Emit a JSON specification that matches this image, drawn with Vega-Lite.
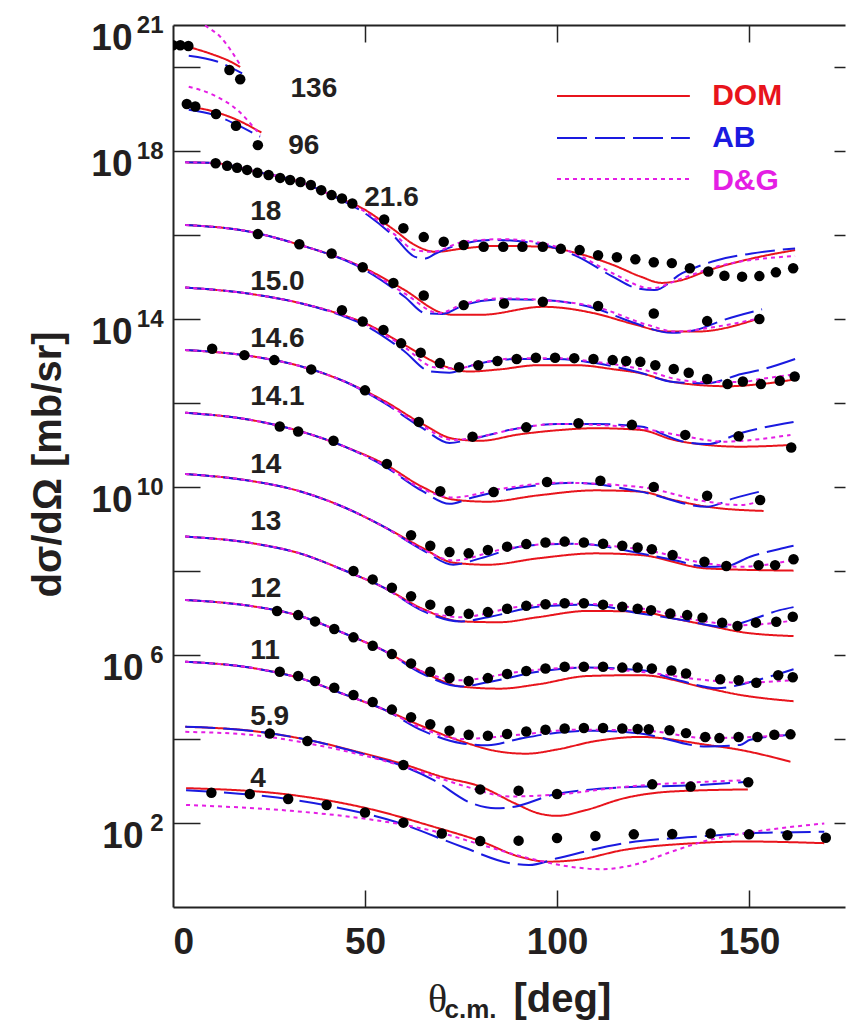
{
  "$schema": "https://vega.github.io/schema/vega-lite/v6.json",
  "width": 672,
  "height": 882,
  "autosize": {"type": "none"},
  "padding": {"left": 173, "top": 25, "right": 1, "bottom": 116},
  "background": "white",
  "config": {
    "view": {"stroke": null},
    "font": "Liberation Sans",
    "axis": {"grid": false, "domainColor": "#222222", "tickColor": "#222222", "labelColor": "#231f20", "titleColor": "#231f20", "labelFont": "Liberation Sans", "titleFont": "Liberation Sans"}
  },
  "datasets": {
    "curves": [
      {"E":"136","m":"DOM","t":4,"v":3.02e20},{"E":"136","m":"DOM","t":10.6,"v":1.95e20},{"E":"136","m":"DOM","t":14.5,"v":1.41e20},{"E":"136","m":"DOM","t":17.5,"v":1.0e20},
      {"E":"136","m":"AB","t":4.1,"v":1.86e20},{"E":"136","m":"AB","t":11.5,"v":1.35e20},{"E":"136","m":"AB","t":18,"v":7.08e19},
      {"E":"136","m":"D&G","t":5,"v":1.66e21},{"E":"136","m":"D&G","t":8.2,"v":1.0e21},{"E":"136","m":"D&G","t":12.3,"v":5.25e20},{"E":"136","m":"D&G","t":17.5,"v":1.12e20},
      {"E":"96","m":"DOM","t":3.2,"v":1.17e19},{"E":"96","m":"DOM","t":10.6,"v":8.71e18},{"E":"96","m":"DOM","t":16.7,"v":5.5e18},{"E":"96","m":"DOM","t":23,"v":2.75e18},
      {"E":"96","m":"AB","t":4.1,"v":9.55e18},{"E":"96","m":"AB","t":10.6,"v":7.24e18},{"E":"96","m":"AB","t":16.7,"v":4.17e18},{"E":"96","m":"AB","t":22.7,"v":2.19e18},
      {"E":"96","m":"D&G","t":4.1,"v":3.39e19},{"E":"96","m":"D&G","t":10.6,"v":2.14e19},{"E":"96","m":"D&G","t":16.7,"v":9.55e18},{"E":"96","m":"D&G","t":22.7,"v":2.4e18},

      {"E":"21.6","m":"DOM","t":3.2,"v":5.37e17},{"E":"21.6","m":"DOM","t":11,"v":5.13e17},{"E":"21.6","m":"DOM","t":22,"v":3.16e17},{"E":"21.6","m":"DOM","t":33.2,"v":1.82e17},{"E":"21.6","m":"DOM","t":41.3,"v":8.91e16},{"E":"21.6","m":"DOM","t":49.4,"v":4.27e16},{"E":"21.6","m":"DOM","t":57.6,"v":1.32e16},{"E":"21.6","m":"DOM","t":63,"v":5.75e15},{"E":"21.6","m":"DOM","t":68.4,"v":3.98e15},{"E":"21.6","m":"DOM","t":75.7,"v":4.79e15},{"E":"21.6","m":"DOM","t":83.8,"v":5.5e15},{"E":"21.6","m":"DOM","t":96.4,"v":5.25e15},{"E":"21.6","m":"DOM","t":105.5,"v":3.63e15},{"E":"21.6","m":"DOM","t":114.5,"v":1.95e15},{"E":"21.6","m":"DOM","t":121.8,"v":1.02e15},{"E":"21.6","m":"DOM","t":127.2,"v":7.24e14},{"E":"21.6","m":"DOM","t":131.7,"v":8.13e14},{"E":"21.6","m":"DOM","t":139.8,"v":1.48e15},{"E":"21.6","m":"DOM","t":150.7,"v":2.75e15},{"E":"21.6","m":"DOM","t":162,"v":4.37e15},
      {"E":"21.6","m":"AB","t":3.2,"v":5.37e17},{"E":"21.6","m":"AB","t":11,"v":5.13e17},{"E":"21.6","m":"AB","t":22,"v":3.16e17},{"E":"21.6","m":"AB","t":33.2,"v":1.82e17},{"E":"21.6","m":"AB","t":41.3,"v":8.91e16},{"E":"21.6","m":"AB","t":51.2,"v":2.75e16},{"E":"21.6","m":"AB","t":57.6,"v":9.12e15},{"E":"21.6","m":"AB","t":63,"v":3.02e15},{"E":"21.6","m":"AB","t":65.7,"v":2.75e15},{"E":"21.6","m":"AB","t":68.4,"v":3.63e15},{"E":"21.6","m":"AB","t":75.7,"v":6.31e15},{"E":"21.6","m":"AB","t":83.8,"v":7.59e15},{"E":"21.6","m":"AB","t":94.6,"v":6.31e15},{"E":"21.6","m":"AB","t":105.5,"v":3.02e15},{"E":"21.6","m":"AB","t":114.5,"v":1.02e15},{"E":"21.6","m":"AB","t":120.9,"v":5.37e14},{"E":"21.6","m":"AB","t":125.4,"v":4.9e14},{"E":"21.6","m":"AB","t":132.6,"v":1.23e15},{"E":"21.6","m":"AB","t":141.7,"v":2.51e15},{"E":"21.6","m":"AB","t":150.7,"v":3.63e15},{"E":"21.6","m":"AB","t":162,"v":4.79e15},
      {"E":"21.6","m":"D&G","t":3.2,"v":5.37e17},{"E":"21.6","m":"D&G","t":11,"v":5.13e17},{"E":"21.6","m":"D&G","t":22,"v":3.16e17},{"E":"21.6","m":"D&G","t":33.2,"v":1.82e17},{"E":"21.6","m":"D&G","t":41.3,"v":8.91e16},{"E":"21.6","m":"D&G","t":51,"v":3.16e16},{"E":"21.6","m":"D&G","t":57.6,"v":1.05e16},{"E":"21.6","m":"D&G","t":63,"v":4.37e15},{"E":"21.6","m":"D&G","t":67.5,"v":3.98e15},{"E":"21.6","m":"D&G","t":75.7,"v":6.92e15},{"E":"21.6","m":"D&G","t":85.6,"v":7.94e15},{"E":"21.6","m":"D&G","t":96.4,"v":6.31e15},{"E":"21.6","m":"D&G","t":105.5,"v":3.31e15},{"E":"21.6","m":"D&G","t":114.5,"v":1.23e15},{"E":"21.6","m":"D&G","t":124.5,"v":5.37e14},{"E":"21.6","m":"D&G","t":132.6,"v":9.33e14},{"E":"21.6","m":"D&G","t":141.7,"v":1.78e15},{"E":"21.6","m":"D&G","t":162,"v":3.16e15},

      {"E":"18","m":"DOM","t":3.2,"v":1.74e16},{"E":"18","m":"DOM","t":20,"v":1.2e16},{"E":"18","m":"DOM","t":33.2,"v":5.75e15},{"E":"18","m":"DOM","t":49.4,"v":1.7e15},{"E":"18","m":"DOM","t":60.3,"v":4.9e14},{"E":"18","m":"DOM","t":70.2,"v":1.38e14},{"E":"18","m":"DOM","t":72.9,"v":1.26e14},{"E":"18","m":"DOM","t":80.2,"v":1.26e14},{"E":"18","m":"DOM","t":96.4,"v":1.95e14},{"E":"18","m":"DOM","t":110,"v":1.35e14},{"E":"18","m":"DOM","t":119.1,"v":7.94e13},{"E":"18","m":"DOM","t":128.9,"v":5.01e13},{"E":"18","m":"DOM","t":136.2,"v":5.01e13},{"E":"18","m":"DOM","t":152.9,"v":1.05e14},
      {"E":"18","m":"AB","t":3.2,"v":1.74e16},{"E":"18","m":"AB","t":20,"v":1.2e16},{"E":"18","m":"AB","t":33.2,"v":5.75e15},{"E":"18","m":"AB","t":49.4,"v":1.58e15},{"E":"18","m":"AB","t":60.3,"v":3.39e14},{"E":"18","m":"AB","t":65.7,"v":1.38e14},{"E":"18","m":"AB","t":70.2,"v":1.32e14},{"E":"18","m":"AB","t":75.7,"v":2.14e14},{"E":"18","m":"AB","t":85.6,"v":2.95e14},{"E":"18","m":"AB","t":96.4,"v":2.82e14},{"E":"18","m":"AB","t":110,"v":1.78e14},{"E":"18","m":"AB","t":119.1,"v":8.71e13},{"E":"18","m":"AB","t":129.9,"v":4.68e13},{"E":"18","m":"AB","t":136.2,"v":5.5e13},{"E":"18","m":"AB","t":143.5,"v":9.55e13},{"E":"18","m":"AB","t":153.4,"v":1.7e14},
      {"E":"18","m":"D&G","t":3.2,"v":1.74e16},{"E":"18","m":"D&G","t":20,"v":1.2e16},{"E":"18","m":"D&G","t":33.2,"v":5.75e15},{"E":"18","m":"D&G","t":49.4,"v":1.66e15},{"E":"18","m":"D&G","t":60.3,"v":4.07e14},{"E":"18","m":"D&G","t":69.3,"v":1.38e14},{"E":"18","m":"D&G","t":75.7,"v":2.29e14},{"E":"18","m":"D&G","t":85.6,"v":3.09e14},{"E":"18","m":"D&G","t":96.4,"v":2.82e14},{"E":"18","m":"D&G","t":110,"v":1.95e14},{"E":"18","m":"D&G","t":123.6,"v":7.24e13},{"E":"18","m":"D&G","t":130.8,"v":5.01e13},{"E":"18","m":"D&G","t":141.7,"v":6.61e13},{"E":"18","m":"D&G","t":152.9,"v":1.05e14},

      {"E":"15.0","m":"DOM","t":3.2,"v":5.62e14},{"E":"15.0","m":"DOM","t":20,"v":3.98e14},{"E":"15.0","m":"DOM","t":33,"v":2.4e14},{"E":"15.0","m":"DOM","t":44,"v":1.26e14},{"E":"15.0","m":"DOM","t":50,"v":7.94e13},{"E":"15.0","m":"DOM","t":60,"v":2.51e13},{"E":"15.0","m":"DOM","t":70,"v":7.94e12},{"E":"15.0","m":"DOM","t":77,"v":5.62e12},{"E":"15.0","m":"DOM","t":85,"v":6.31e12},{"E":"15.0","m":"DOM","t":95,"v":7.94e12},{"E":"15.0","m":"DOM","t":105,"v":7.94e12},{"E":"15.0","m":"DOM","t":115,"v":6.31e12},{"E":"15.0","m":"DOM","t":121.7,"v":5.13e12},{"E":"15.0","m":"DOM","t":130.3,"v":3.16e12},{"E":"15.0","m":"DOM","t":144.4,"v":2.51e12},{"E":"15.0","m":"DOM","t":153,"v":2.82e12},{"E":"15.0","m":"DOM","t":162.6,"v":3.72e12},
      {"E":"15.0","m":"AB","t":3.2,"v":5.62e14},{"E":"15.0","m":"AB","t":20,"v":3.98e14},{"E":"15.0","m":"AB","t":33,"v":2.4e14},{"E":"15.0","m":"AB","t":44,"v":1.2e14},{"E":"15.0","m":"AB","t":50,"v":7.08e13},{"E":"15.0","m":"AB","t":60,"v":1.78e13},{"E":"15.0","m":"AB","t":67,"v":5.62e12},{"E":"15.0","m":"AB","t":72,"v":5.25e12},{"E":"15.0","m":"AB","t":78,"v":7.94e12},{"E":"15.0","m":"AB","t":90,"v":1.12e13},{"E":"15.0","m":"AB","t":100,"v":1.12e13},{"E":"15.0","m":"AB","t":110,"v":8.91e12},{"E":"15.0","m":"AB","t":121.7,"v":5.25e12},{"E":"15.0","m":"AB","t":130.3,"v":3.16e12},{"E":"15.0","m":"AB","t":139,"v":2.95e12},{"E":"15.0","m":"AB","t":148,"v":4.9e12},{"E":"15.0","m":"AB","t":153,"v":6.17e12},{"E":"15.0","m":"AB","t":162.6,"v":1.17e13},
      {"E":"15.0","m":"D&G","t":3.2,"v":5.62e14},{"E":"15.0","m":"D&G","t":20,"v":3.98e14},{"E":"15.0","m":"D&G","t":33,"v":2.4e14},{"E":"15.0","m":"D&G","t":44,"v":1.26e14},{"E":"15.0","m":"D&G","t":50,"v":7.59e13},{"E":"15.0","m":"D&G","t":60,"v":2.24e13},{"E":"15.0","m":"D&G","t":68,"v":7.08e12},{"E":"15.0","m":"D&G","t":74,"v":6.61e12},{"E":"15.0","m":"D&G","t":80,"v":8.91e12},{"E":"15.0","m":"D&G","t":90,"v":1.17e13},{"E":"15.0","m":"D&G","t":100,"v":1.17e13},{"E":"15.0","m":"D&G","t":110,"v":9.55e12},{"E":"15.0","m":"D&G","t":121.7,"v":6.46e12},{"E":"15.0","m":"D&G","t":132,"v":3.55e12},{"E":"15.0","m":"D&G","t":139,"v":3.16e12},{"E":"15.0","m":"D&G","t":148,"v":3.16e12},{"E":"15.0","m":"D&G","t":153,"v":3.72e12},{"E":"15.0","m":"D&G","t":162.6,"v":4.9e12},

      {"E":"14.6","m":"DOM","t":3.2,"v":1.82e13},{"E":"14.6","m":"DOM","t":20,"v":1.32e13},{"E":"14.6","m":"DOM","t":33,"v":7.59e12},{"E":"14.6","m":"DOM","t":45,"v":3.16e12},{"E":"14.6","m":"DOM","t":55,"v":1.12e12},{"E":"14.6","m":"DOM","t":65,"v":3.16e11},{"E":"14.6","m":"DOM","t":73,"v":1.41e11},{"E":"14.6","m":"DOM","t":80,"v":1.26e11},{"E":"14.6","m":"DOM","t":90,"v":1.78e11},{"E":"14.6","m":"DOM","t":100,"v":2.24e11},{"E":"14.6","m":"DOM","t":110,"v":2.51e11},{"E":"14.6","m":"DOM","t":121.7,"v":2.29e11},{"E":"14.6","m":"DOM","t":130.4,"v":1.32e11},{"E":"14.6","m":"DOM","t":139.1,"v":1.0e11},{"E":"14.6","m":"DOM","t":147.7,"v":9.12e10},{"E":"14.6","m":"DOM","t":160.8,"v":1.0e11},
      {"E":"14.6","m":"AB","t":3.2,"v":1.82e13},{"E":"14.6","m":"AB","t":20,"v":1.32e13},{"E":"14.6","m":"AB","t":33,"v":7.59e12},{"E":"14.6","m":"AB","t":45,"v":3.16e12},{"E":"14.6","m":"AB","t":55,"v":1.0e12},{"E":"14.6","m":"AB","t":65,"v":2.51e11},{"E":"14.6","m":"AB","t":72,"v":1.12e11},{"E":"14.6","m":"AB","t":78,"v":1.41e11},{"E":"14.6","m":"AB","t":90,"v":2.51e11},{"E":"14.6","m":"AB","t":100,"v":3.16e11},{"E":"14.6","m":"AB","t":110,"v":3.16e11},{"E":"14.6","m":"AB","t":121.7,"v":2.75e11},{"E":"14.6","m":"AB","t":133,"v":1.2e11},{"E":"14.6","m":"AB","t":139.1,"v":1.05e11},{"E":"14.6","m":"AB","t":147.7,"v":1.91e11},{"E":"14.6","m":"AB","t":161.6,"v":3.55e11},
      {"E":"14.6","m":"D&G","t":3.2,"v":1.82e13},{"E":"14.6","m":"D&G","t":20,"v":1.32e13},{"E":"14.6","m":"D&G","t":33,"v":7.59e12},{"E":"14.6","m":"D&G","t":45,"v":3.16e12},{"E":"14.6","m":"D&G","t":55,"v":1.05e12},{"E":"14.6","m":"D&G","t":65,"v":2.82e11},{"E":"14.6","m":"D&G","t":73,"v":1.32e11},{"E":"14.6","m":"D&G","t":80,"v":1.58e11},{"E":"14.6","m":"D&G","t":90,"v":2.51e11},{"E":"14.6","m":"D&G","t":100,"v":3.16e11},{"E":"14.6","m":"D&G","t":110,"v":3.02e11},{"E":"14.6","m":"D&G","t":121.7,"v":2.51e11},{"E":"14.6","m":"D&G","t":133,"v":1.62e11},{"E":"14.6","m":"D&G","t":143.4,"v":1.2e11},{"E":"14.6","m":"D&G","t":154.7,"v":1.45e11},{"E":"14.6","m":"D&G","t":160.8,"v":1.74e11},

      {"E":"14.1","m":"DOM","t":3.2,"v":5.89e11},{"E":"14.1","m":"DOM","t":20,"v":3.98e11},{"E":"14.1","m":"DOM","t":33,"v":2.14e11},{"E":"14.1","m":"DOM","t":45,"v":8.91e10},{"E":"14.1","m":"DOM","t":55,"v":3.55e10},{"E":"14.1","m":"DOM","t":65,"v":1.0e10},{"E":"14.1","m":"DOM","t":73,"v":5.01e9},{"E":"14.1","m":"DOM","t":82,"v":4.47e9},{"E":"14.1","m":"DOM","t":95,"v":6.31e9},{"E":"14.1","m":"DOM","t":110,"v":8.32e9},{"E":"14.1","m":"DOM","t":121.7,"v":7.76e9},{"E":"14.1","m":"DOM","t":130.4,"v":4.9e9},{"E":"14.1","m":"DOM","t":139.1,"v":3.39e9},{"E":"14.1","m":"DOM","t":153.8,"v":2.69e9},
      {"E":"14.1","m":"AB","t":3.2,"v":5.89e11},{"E":"14.1","m":"AB","t":20,"v":3.98e11},{"E":"14.1","m":"AB","t":33,"v":2.14e11},{"E":"14.1","m":"AB","t":45,"v":8.91e10},{"E":"14.1","m":"AB","t":55,"v":3.16e10},{"E":"14.1","m":"AB","t":65,"v":7.94e9},{"E":"14.1","m":"AB","t":72,"v":3.98e9},{"E":"14.1","m":"AB","t":78,"v":5.62e9},{"E":"14.1","m":"AB","t":90,"v":9.55e9},{"E":"14.1","m":"AB","t":105,"v":1.26e10},{"E":"14.1","m":"AB","t":121.7,"v":7.76e9},{"E":"14.1","m":"AB","t":139.1,"v":3.39e9},{"E":"14.1","m":"AB","t":146,"v":5.37e9},{"E":"14.1","m":"AB","t":153.8,"v":8.13e9},
      {"E":"14.1","m":"D&G","t":3.2,"v":5.89e11},{"E":"14.1","m":"D&G","t":20,"v":3.98e11},{"E":"14.1","m":"D&G","t":33,"v":2.14e11},{"E":"14.1","m":"D&G","t":45,"v":8.91e10},{"E":"14.1","m":"D&G","t":55,"v":3.31e10},{"E":"14.1","m":"D&G","t":65,"v":8.91e9},{"E":"14.1","m":"D&G","t":73,"v":5.62e9},{"E":"14.1","m":"D&G","t":85,"v":8.91e9},{"E":"14.1","m":"D&G","t":100,"v":1.26e10},{"E":"14.1","m":"D&G","t":121.7,"v":1.0e10},{"E":"14.1","m":"D&G","t":139.1,"v":4.47e9},{"E":"14.1","m":"D&G","t":147.7,"v":3.72e9},{"E":"14.1","m":"D&G","t":153.8,"v":4.9e9},

      {"E":"14","m":"DOM","t":3.2,"v":2.04e10},{"E":"14","m":"DOM","t":20,"v":1.41e10},{"E":"14","m":"DOM","t":33,"v":7.94e9},{"E":"14","m":"DOM","t":45,"v":3.16e9},{"E":"14","m":"DOM","t":55,"v":1.12e9},{"E":"14","m":"DOM","t":65,"v":3.55e8},{"E":"14","m":"DOM","t":73,"v":1.58e8},{"E":"14","m":"DOM","t":82,"v":1.41e8},{"E":"14","m":"DOM","t":95,"v":2.0e8},{"E":"14","m":"DOM","t":110,"v":2.63e8},{"E":"14","m":"DOM","t":121.7,"v":2.4e8},{"E":"14","m":"DOM","t":139.1,"v":1.15e8},{"E":"14","m":"DOM","t":161.6,"v":1.02e8},
      {"E":"14","m":"AB","t":3.2,"v":2.04e10},{"E":"14","m":"AB","t":20,"v":1.41e10},{"E":"14","m":"AB","t":33,"v":7.94e9},{"E":"14","m":"AB","t":45,"v":3.16e9},{"E":"14","m":"AB","t":55,"v":1.12e9},{"E":"14","m":"AB","t":65,"v":3.16e8},{"E":"14","m":"AB","t":73,"v":1.41e8},{"E":"14","m":"AB","t":80,"v":2.0e8},{"E":"14","m":"AB","t":92,"v":3.98e8},{"E":"14","m":"AB","t":105,"v":4.47e8},{"E":"14","m":"AB","t":121.7,"v":2.63e8},{"E":"14","m":"AB","t":130.4,"v":1.82e8},{"E":"14","m":"AB","t":139.1,"v":1.26e8},{"E":"14","m":"AB","t":144.3,"v":1.32e8},{"E":"14","m":"AB","t":150.3,"v":2.19e8},{"E":"14","m":"AB","t":157.7,"v":3.31e8},{"E":"14","m":"AB","t":161.6,"v":3.98e8},
      {"E":"14","m":"D&G","t":3.2,"v":2.04e10},{"E":"14","m":"D&G","t":20,"v":1.41e10},{"E":"14","m":"D&G","t":33,"v":7.94e9},{"E":"14","m":"D&G","t":45,"v":3.16e9},{"E":"14","m":"D&G","t":55,"v":1.12e9},{"E":"14","m":"D&G","t":65,"v":3.31e8},{"E":"14","m":"D&G","t":73,"v":1.78e8},{"E":"14","m":"D&G","t":85,"v":3.16e8},{"E":"14","m":"D&G","t":100,"v":4.47e8},{"E":"14","m":"D&G","t":121.7,"v":3.31e8},{"E":"14","m":"D&G","t":139.1,"v":1.51e8},{"E":"14","m":"D&G","t":147.7,"v":1.26e8},{"E":"14","m":"D&G","t":161.6,"v":1.82e8},

      {"E":"13","m":"DOM","t":3.2,"v":6.61e8},{"E":"13","m":"DOM","t":20,"v":4.68e8},{"E":"13","m":"DOM","t":33,"v":2.63e8},{"E":"13","m":"DOM","t":45,"v":1.0e8},{"E":"13","m":"DOM","t":55,"v":3.98e7},{"E":"13","m":"DOM","t":65,"v":1.26e7},{"E":"13","m":"DOM","t":75,"v":6.31e6},{"E":"13","m":"DOM","t":85,"v":6.03e6},{"E":"13","m":"DOM","t":95,"v":7.94e6},{"E":"13","m":"DOM","t":108,"v":1.12e7},{"E":"13","m":"DOM","t":121.7,"v":1.07e7},{"E":"13","m":"DOM","t":130.4,"v":7.41e6},{"E":"13","m":"DOM","t":139.1,"v":5.13e6},{"E":"13","m":"DOM","t":147.7,"v":3.55e6},{"E":"13","m":"DOM","t":161.6,"v":2.82e6},
      {"E":"13","m":"AB","t":3.2,"v":6.61e8},{"E":"13","m":"AB","t":20,"v":4.68e8},{"E":"13","m":"AB","t":33,"v":2.63e8},{"E":"13","m":"AB","t":45,"v":1.0e8},{"E":"13","m":"AB","t":55,"v":3.98e7},{"E":"13","m":"AB","t":65,"v":1.12e7},{"E":"13","m":"AB","t":75,"v":6.31e6},{"E":"13","m":"AB","t":82,"v":7.94e6},{"E":"13","m":"AB","t":95,"v":1.41e7},{"E":"13","m":"AB","t":108,"v":1.58e7},{"E":"13","m":"AB","t":121.7,"v":9.77e6},{"E":"13","m":"AB","t":133,"v":6.76e6},{"E":"13","m":"AB","t":143.4,"v":4.68e6},{"E":"13","m":"AB","t":150.3,"v":6.76e6},{"E":"13","m":"AB","t":158,"v":1.17e7},{"E":"13","m":"AB","t":161.6,"v":1.38e7},
      {"E":"13","m":"D&G","t":3.2,"v":6.61e8},{"E":"13","m":"D&G","t":20,"v":4.68e8},{"E":"13","m":"D&G","t":33,"v":2.63e8},{"E":"13","m":"D&G","t":45,"v":1.0e8},{"E":"13","m":"D&G","t":55,"v":3.98e7},{"E":"13","m":"D&G","t":65,"v":1.2e7},{"E":"13","m":"D&G","t":75,"v":7.94e6},{"E":"13","m":"D&G","t":90,"v":1.41e7},{"E":"13","m":"D&G","t":105,"v":1.66e7},{"E":"13","m":"D&G","t":121.7,"v":1.29e7},{"E":"13","m":"D&G","t":139.1,"v":6.17e6},{"E":"13","m":"D&G","t":147.7,"v":5.13e6},{"E":"13","m":"D&G","t":161.6,"v":6.61e6},

      {"E":"12","m":"DOM","t":3.2,"v":2.04e7},{"E":"12","m":"DOM","t":20,"v":1.48e7},{"E":"12","m":"DOM","t":33,"v":8.51e6},{"E":"12","m":"DOM","t":45,"v":3.16e6},{"E":"12","m":"DOM","t":55,"v":1.26e6},{"E":"12","m":"DOM","t":65,"v":3.98e5},{"E":"12","m":"DOM","t":75,"v":1.78e5},{"E":"12","m":"DOM","t":85,"v":1.58e5},{"E":"12","m":"DOM","t":95,"v":2.0e5},{"E":"12","m":"DOM","t":108,"v":3.16e5},{"E":"12","m":"DOM","t":121.7,"v":3.31e5},{"E":"12","m":"DOM","t":139.1,"v":1.62e5},{"E":"12","m":"DOM","t":147.7,"v":1.12e5},{"E":"12","m":"DOM","t":161.6,"v":7.94e4},
      {"E":"12","m":"AB","t":3.2,"v":2.04e7},{"E":"12","m":"AB","t":20,"v":1.48e7},{"E":"12","m":"AB","t":33,"v":8.51e6},{"E":"12","m":"AB","t":45,"v":3.16e6},{"E":"12","m":"AB","t":55,"v":1.26e6},{"E":"12","m":"AB","t":65,"v":3.55e5},{"E":"12","m":"AB","t":75,"v":1.78e5},{"E":"12","m":"AB","t":82,"v":2.24e5},{"E":"12","m":"AB","t":95,"v":3.98e5},{"E":"12","m":"AB","t":108,"v":5.01e5},{"E":"12","m":"AB","t":121.7,"v":4.37e5},{"E":"12","m":"AB","t":131.6,"v":2.51e5},{"E":"12","m":"AB","t":141.7,"v":1.62e5},{"E":"12","m":"AB","t":147.7,"v":1.95e5},{"E":"12","m":"AB","t":152.1,"v":2.51e5},{"E":"12","m":"AB","t":158.1,"v":3.63e5},{"E":"12","m":"AB","t":161.6,"v":4.57e5},
      {"E":"12","m":"D&G","t":3.2,"v":2.04e7},{"E":"12","m":"D&G","t":20,"v":1.48e7},{"E":"12","m":"D&G","t":33,"v":8.51e6},{"E":"12","m":"D&G","t":45,"v":3.16e6},{"E":"12","m":"D&G","t":55,"v":1.26e6},{"E":"12","m":"D&G","t":65,"v":3.98e5},{"E":"12","m":"D&G","t":75,"v":2.51e5},{"E":"12","m":"D&G","t":90,"v":3.98e5},{"E":"12","m":"D&G","t":105,"v":5.01e5},{"E":"12","m":"D&G","t":121.7,"v":3.98e5},{"E":"12","m":"D&G","t":139.1,"v":2.51e5},{"E":"12","m":"D&G","t":147.7,"v":2.19e5},{"E":"12","m":"D&G","t":161.6,"v":2.51e5},

      {"E":"11","m":"DOM","t":3.2,"v":6.92e5},{"E":"11","m":"DOM","t":20,"v":5.01e5},{"E":"11","m":"DOM","t":33,"v":2.82e5},{"E":"11","m":"DOM","t":45,"v":1.12e5},{"E":"11","m":"DOM","t":55,"v":5.01e4},{"E":"11","m":"DOM","t":65,"v":2.0e4},{"E":"11","m":"DOM","t":75,"v":8.91e3},{"E":"11","m":"DOM","t":85,"v":5.01e3},{"E":"11","m":"DOM","t":92,"v":4.47e3},{"E":"11","m":"DOM","t":100,"v":5.62e3},{"E":"11","m":"DOM","t":110,"v":8.91e3},{"E":"11","m":"DOM","t":121.7,"v":1.12e4},{"E":"11","m":"DOM","t":139.1,"v":7.24e3},{"E":"11","m":"DOM","t":147.7,"v":5.5e3},{"E":"11","m":"DOM","t":160.8,"v":2.88e3},
      {"E":"11","m":"AB","t":3.2,"v":6.92e5},{"E":"11","m":"AB","t":20,"v":5.01e5},{"E":"11","m":"AB","t":33,"v":2.82e5},{"E":"11","m":"AB","t":45,"v":1.12e5},{"E":"11","m":"AB","t":55,"v":5.01e4},{"E":"11","m":"AB","t":65,"v":1.58e4},{"E":"11","m":"AB","t":75,"v":7.94e3},{"E":"11","m":"AB","t":82,"v":7.08e3},{"E":"11","m":"AB","t":90,"v":1.0e4},{"E":"11","m":"AB","t":100,"v":1.41e4},{"E":"11","m":"AB","t":110,"v":1.58e4},{"E":"11","m":"AB","t":121.7,"v":1.35e4},{"E":"11","m":"AB","t":139.1,"v":6.61e3},{"E":"11","m":"AB","t":147.7,"v":7.24e3},{"E":"11","m":"AB","t":150.3,"v":9.55e3},{"E":"11","m":"AB","t":161.6,"v":1.26e4},
      {"E":"11","m":"D&G","t":3.2,"v":6.92e5},{"E":"11","m":"D&G","t":20,"v":5.01e5},{"E":"11","m":"D&G","t":33,"v":2.82e5},{"E":"11","m":"D&G","t":45,"v":1.12e5},{"E":"11","m":"D&G","t":55,"v":5.01e4},{"E":"11","m":"D&G","t":65,"v":1.78e4},{"E":"11","m":"D&G","t":75,"v":1.0e4},{"E":"11","m":"D&G","t":90,"v":1.26e4},{"E":"11","m":"D&G","t":105,"v":1.66e4},{"E":"11","m":"D&G","t":121.7,"v":1.62e4},{"E":"11","m":"D&G","t":139.1,"v":1.05e4},{"E":"11","m":"D&G","t":161.6,"v":1.26e4},

      {"E":"5.9","m":"DOM","t":3.2,"v":1.95e4},{"E":"5.9","m":"DOM","t":20,"v":1.58e4},{"E":"5.9","m":"DOM","t":35,"v":9.55e3},{"E":"5.9","m":"DOM","t":50,"v":4.47e3},{"E":"5.9","m":"DOM","t":60,"v":2.51e3},{"E":"5.9","m":"DOM","t":70,"v":1.26e3},{"E":"5.9","m":"DOM","t":80.3,"v":724},{"E":"5.9","m":"DOM","t":89,"v":295},{"E":"5.9","m":"DOM","t":95.2,"v":170},{"E":"5.9","m":"DOM","t":100.1,"v":148},{"E":"5.9","m":"DOM","t":107.6,"v":204},{"E":"5.9","m":"DOM","t":117.5,"v":389},{"E":"5.9","m":"DOM","t":129.9,"v":562},{"E":"5.9","m":"DOM","t":149.7,"v":631},
      {"E":"5.9","m":"AB","t":3.2,"v":1.95e4},{"E":"5.9","m":"AB","t":20,"v":1.58e4},{"E":"5.9","m":"AB","t":35,"v":9.55e3},{"E":"5.9","m":"AB","t":50,"v":4.27e3},{"E":"5.9","m":"AB","t":60,"v":2.24e3},{"E":"5.9","m":"AB","t":67.9,"v":1.05e3},{"E":"5.9","m":"AB","t":77.8,"v":295},{"E":"5.9","m":"AB","t":84,"v":224},{"E":"5.9","m":"AB","t":89,"v":245},{"E":"5.9","m":"AB","t":98.9,"v":468},{"E":"5.9","m":"AB","t":117.5,"v":708},{"E":"5.9","m":"AB","t":136.1,"v":794},{"E":"5.9","m":"AB","t":149.7,"v":955},
      {"E":"5.9","m":"D&G","t":3.2,"v":1.48e4},{"E":"5.9","m":"D&G","t":20,"v":1.26e4},{"E":"5.9","m":"D&G","t":35,"v":7.94e3},{"E":"5.9","m":"D&G","t":50,"v":3.98e3},{"E":"5.9","m":"D&G","t":60,"v":2.24e3},{"E":"5.9","m":"D&G","t":70,"v":1.12e3},{"E":"5.9","m":"D&G","t":76.6,"v":724},{"E":"5.9","m":"D&G","t":87.7,"v":427},{"E":"5.9","m":"D&G","t":98.9,"v":468},{"E":"5.9","m":"D&G","t":117.5,"v":724},{"E":"5.9","m":"D&G","t":149.7,"v":1.05e3},

      {"E":"4","m":"DOM","t":3.4,"v":676},{"E":"4","m":"DOM","t":30.7,"v":468},{"E":"4","m":"DOM","t":50.5,"v":224},{"E":"4","m":"DOM","t":67.9,"v":81.3},{"E":"4","m":"DOM","t":80.3,"v":36.3},{"E":"4","m":"DOM","t":90.2,"v":15.8},{"E":"4","m":"DOM","t":97.6,"v":12},{"E":"4","m":"DOM","t":105.1,"v":13.2},{"E":"4","m":"DOM","t":117.5,"v":22.9},{"E":"4","m":"DOM","t":136.1,"v":33.1},{"E":"4","m":"DOM","t":148.5,"v":36.3},{"E":"4","m":"DOM","t":169.6,"v":33.1},
      {"E":"4","m":"AB","t":3.4,"v":603},{"E":"4","m":"AB","t":20.8,"v":468},{"E":"4","m":"AB","t":39.4,"v":269},{"E":"4","m":"AB","t":57.9,"v":107},{"E":"4","m":"AB","t":75.4,"v":26.9},{"E":"4","m":"AB","t":87.8,"v":11},{"E":"4","m":"AB","t":92.7,"v":10},{"E":"4","m":"AB","t":100.1,"v":14.5},{"E":"4","m":"AB","t":117.5,"v":33.1},{"E":"4","m":"AB","t":136.1,"v":46.8},{"E":"4","m":"AB","t":148.5,"v":56.2},{"E":"4","m":"AB","t":169.6,"v":61.7},
      {"E":"4","m":"D&G","t":3.4,"v":269},{"E":"4","m":"D&G","t":30.7,"v":195},{"E":"4","m":"D&G","t":49.3,"v":129},{"E":"4","m":"D&G","t":60.5,"v":89.1},{"E":"4","m":"D&G","t":70.4,"v":56.2},{"E":"4","m":"D&G","t":80.3,"v":30.2},{"E":"4","m":"D&G","t":92.7,"v":14.5},{"E":"4","m":"D&G","t":105.1,"v":8.71},{"E":"4","m":"D&G","t":111.3,"v":7.94},{"E":"4","m":"D&G","t":119.9,"v":10},{"E":"4","m":"D&G","t":129.9,"v":20.9},{"E":"4","m":"D&G","t":139.8,"v":39.8},{"E":"4","m":"D&G","t":148.5,"v":56.2},{"E":"4","m":"D&G","t":169.6,"v":97.7}
    ],
    "dots": [
      {"E":"136","t":0,"v":3.31e20},{"E":"136","t":1.9,"v":3.31e20},{"E":"136","t":4,"v":3.16e20},{"E":"136","t":14.7,"v":8.51e19},{"E":"136","t":17.5,"v":5.13e19},
      {"E":"96","t":3.6,"v":1.32e19},{"E":"96","t":5.8,"v":1.15e19},{"E":"96","t":11.2,"v":7.59e18},{"E":"96","t":16.4,"v":3.98e18},{"E":"96","t":22.1,"v":1.38e18},
      {"E":"21.6","t":11.1,"v":5.13e17},{"E":"21.6","t":14.1,"v":4.47e17},{"E":"21.6","t":16.7,"v":3.98e17},{"E":"21.6","t":19.3,"v":3.55e17},{"E":"21.6","t":22,"v":3.02e17},{"E":"21.6","t":24.9,"v":2.69e17},{"E":"21.6","t":27.9,"v":2.29e17},{"E":"21.6","t":30.5,"v":2.04e17},{"E":"21.6","t":33.2,"v":1.82e17},{"E":"21.6","t":35.9,"v":1.55e17},{"E":"21.6","t":38.6,"v":1.17e17},{"E":"21.6","t":41.3,"v":8.91e16},{"E":"21.6","t":44,"v":7.41e16},{"E":"21.6","t":46.7,"v":5.62e16},{"E":"21.6","t":55,"v":2.34e16},{"E":"21.6","t":60,"v":1.45e16},{"E":"21.6","t":65.3,"v":8.91e15},{"E":"21.6","t":70.5,"v":6.92e15},{"E":"21.6","t":75.7,"v":5.75e15},{"E":"21.6","t":80.9,"v":5.25e15},{"E":"21.6","t":86,"v":5.25e15},{"E":"21.6","t":91,"v":5.25e15},{"E":"21.6","t":96.3,"v":5.25e15},{"E":"21.6","t":101,"v":4.68e15},{"E":"21.6","t":105.9,"v":4.37e15},{"E":"21.6","t":110.7,"v":3.31e15},{"E":"21.6","t":115.6,"v":2.95e15},{"E":"21.6","t":120.4,"v":2.63e15},{"E":"21.6","t":125.2,"v":2.24e15},{"E":"21.6","t":129.9,"v":2.14e15},{"E":"21.6","t":134.6,"v":1.62e15},{"E":"21.6","t":139.4,"v":1.35e15},{"E":"21.6","t":143.6,"v":1.07e15},{"E":"21.6","t":148.2,"v":1.02e15},{"E":"21.6","t":152.7,"v":1.05e15},{"E":"21.6","t":157,"v":1.29e15},{"E":"21.6","t":161.5,"v":1.62e15},
      {"E":"18","t":22.1,"v":1.05e16},{"E":"18","t":32.9,"v":6.03e15},{"E":"18","t":41.3,"v":3.63e15},{"E":"18","t":49.4,"v":1.7e15},{"E":"18","t":57.4,"v":7.24e14},{"E":"18","t":65.3,"v":3.63e14},{"E":"18","t":75.7,"v":2.14e14},{"E":"18","t":86.2,"v":2.34e14},{"E":"18","t":96.3,"v":2.57e14},{"E":"18","t":110.7,"v":2.04e14},{"E":"18","t":125.2,"v":1.35e14},{"E":"18","t":139.1,"v":8.91e13},{"E":"18","t":152.7,"v":1.0e14},
      {"E":"15.0","t":44,"v":1.62e14},{"E":"15.0","t":49.4,"v":8.71e13},{"E":"15.0","t":54.8,"v":5.5e13},{"E":"15.0","t":59.4,"v":2.63e13},{"E":"15.0","t":64.5,"v":1.58e13},{"E":"15.0","t":69.5,"v":8.91e12},{"E":"15.0","t":74.5,"v":7.08e12},{"E":"15.0","t":79.5,"v":7.94e12},{"E":"15.0","t":84.5,"v":1.0e13},{"E":"15.0","t":89.5,"v":1.12e13},{"E":"15.0","t":94.5,"v":1.2e13},{"E":"15.0","t":99.5,"v":1.2e13},{"E":"15.0","t":104.5,"v":1.17e13},{"E":"15.0","t":109.5,"v":1.12e13},{"E":"15.0","t":114.5,"v":1.05e13},{"E":"15.0","t":118,"v":1.0e13},{"E":"15.0","t":121.7,"v":9.55e12},{"E":"15.0","t":125.6,"v":7.94e12},{"E":"15.0","t":130.4,"v":6.46e12},{"E":"15.0","t":134.3,"v":5.25e12},{"E":"15.0","t":139.1,"v":3.72e12},{"E":"15.0","t":144.4,"v":2.82e12},{"E":"15.0","t":148.4,"v":3.24e12},{"E":"15.0","t":153.1,"v":2.82e12},{"E":"15.0","t":158,"v":3.39e12},{"E":"15.0","t":161.9,"v":4.27e12},
      {"E":"14.6","t":10.2,"v":1.95e13},{"E":"14.6","t":18.6,"v":1.38e13},{"E":"14.6","t":26.4,"v":1.05e13},{"E":"14.6","t":36,"v":6.31e12},{"E":"14.6","t":50,"v":2.0e12},{"E":"14.6","t":64,"v":3.55e11},{"E":"14.6","t":78,"v":1.58e11},{"E":"14.6","t":92,"v":2.63e11},{"E":"14.6","t":105.6,"v":3.31e11},{"E":"14.6","t":119.5,"v":3.02e11},{"E":"14.6","t":133.4,"v":1.74e11},{"E":"14.6","t":147.3,"v":1.62e11},{"E":"14.6","t":161,"v":8.71e10},
      {"E":"14.1","t":27.8,"v":2.75e11},{"E":"14.1","t":32.6,"v":2.09e11},{"E":"14.1","t":41.8,"v":1.26e11},{"E":"14.1","t":55.7,"v":3.55e10},{"E":"14.1","t":69.6,"v":7.94e9},{"E":"14.1","t":83.5,"v":7.59e9},{"E":"14.1","t":97.4,"v":1.32e10},{"E":"14.1","t":111.3,"v":1.41e10},{"E":"14.1","t":125.2,"v":1.0e10},{"E":"14.1","t":139.1,"v":6.17e9},{"E":"14.1","t":152.9,"v":4.9e9},
      {"E":"14","t":62,"v":7.08e8},{"E":"14","t":67,"v":3.98e8},{"E":"14","t":72,"v":2.82e8},{"E":"14","t":77,"v":2.63e8},{"E":"14","t":82,"v":3.16e8},{"E":"14","t":87,"v":3.8e8},{"E":"14","t":92,"v":4.37e8},{"E":"14","t":97,"v":4.79e8},{"E":"14","t":102,"v":5.01e8},{"E":"14","t":107,"v":4.79e8},{"E":"14","t":112,"v":4.47e8},{"E":"14","t":117,"v":3.98e8},{"E":"14","t":121,"v":3.63e8},
      {"E":"14","t":124.7,"v":3.31e8},{"E":"14","t":130.1,"v":2.4e8},{"E":"14","t":138.4,"v":1.66e8},{"E":"14","t":144.1,"v":1.32e8},{"E":"14","t":152.5,"v":1.38e8},{"E":"14","t":156.8,"v":1.38e8},{"E":"14","t":161.6,"v":1.91e8},
      {"E":"13","t":47,"v":1.0e8},{"E":"13","t":52,"v":6.31e7},{"E":"13","t":57,"v":3.98e7},{"E":"13","t":62,"v":2.51e7},{"E":"13","t":67,"v":1.58e7},{"E":"13","t":72,"v":1.12e7},{"E":"13","t":77,"v":9.55e6},{"E":"13","t":82,"v":1.05e7},{"E":"13","t":87,"v":1.26e7},{"E":"13","t":92,"v":1.48e7},{"E":"13","t":97,"v":1.62e7},{"E":"13","t":102,"v":1.7e7},{"E":"13","t":107,"v":1.7e7},{"E":"13","t":112,"v":1.58e7},{"E":"13","t":117,"v":1.41e7},{"E":"13","t":121,"v":1.26e7},
      {"E":"13","t":124.5,"v":1.17e7},{"E":"13","t":129.5,"v":9.77e6},{"E":"13","t":133.9,"v":8.91e6},{"E":"13","t":137.9,"v":7.76e6},{"E":"13","t":143,"v":5.89e6},{"E":"13","t":147,"v":4.9e6},{"E":"13","t":151.8,"v":5.89e6},{"E":"13","t":157.1,"v":6.17e6},{"E":"13","t":161.4,"v":8.13e6},
      {"E":"12","t":27.1,"v":1.12e7},{"E":"12","t":32.6,"v":8.91e6},{"E":"12","t":37,"v":6.31e6},{"E":"12","t":42,"v":4.17e6},{"E":"12","t":47,"v":2.63e6},{"E":"12","t":52,"v":1.66e6},{"E":"12","t":57,"v":1.05e6},{"E":"12","t":62,"v":6.31e5},{"E":"12","t":67,"v":3.98e5},{"E":"12","t":72,"v":2.82e5},{"E":"12","t":77,"v":2.4e5},{"E":"12","t":82,"v":2.82e5},{"E":"12","t":87,"v":3.55e5},{"E":"12","t":92,"v":4.17e5},{"E":"12","t":97,"v":4.79e5},{"E":"12","t":102,"v":5.25e5},{"E":"12","t":107,"v":5.25e5},{"E":"12","t":112,"v":5.25e5},{"E":"12","t":117,"v":5.01e5},{"E":"12","t":121,"v":5.01e5},
      {"E":"12","t":124.7,"v":4.79e5},{"E":"12","t":129.8,"v":4.27e5},{"E":"12","t":133.6,"v":3.63e5},{"E":"12","t":142.5,"v":2.63e5},{"E":"12","t":147.3,"v":2.51e5},{"E":"12","t":151.9,"v":2.19e5},{"E":"12","t":157.6,"v":3.31e5},{"E":"12","t":161.4,"v":2.95e5},
      {"E":"11","t":27.8,"v":3.98e5},{"E":"11","t":32.6,"v":3.16e5},{"E":"11","t":37,"v":2.4e5},{"E":"11","t":42,"v":1.66e5},{"E":"11","t":47,"v":1.12e5},{"E":"11","t":52,"v":7.59e4},{"E":"11","t":57,"v":5.01e4},{"E":"11","t":62,"v":3.31e4},{"E":"11","t":67,"v":2.24e4},{"E":"11","t":72,"v":1.58e4},{"E":"11","t":77,"v":1.26e4},{"E":"11","t":82,"v":1.2e4},{"E":"11","t":87,"v":1.32e4},{"E":"11","t":92,"v":1.51e4},{"E":"11","t":97,"v":1.66e4},{"E":"11","t":102,"v":1.78e4},{"E":"11","t":107,"v":1.82e4},{"E":"11","t":112,"v":1.82e4},{"E":"11","t":117,"v":1.78e4},{"E":"11","t":121,"v":1.74e4},
      {"E":"11","t":123.9,"v":1.7e4},{"E":"11","t":129.3,"v":1.62e4},{"E":"11","t":133.6,"v":1.38e4},{"E":"11","t":138.6,"v":1.12e4},{"E":"11","t":142.3,"v":1.05e4},{"E":"11","t":147.3,"v":1.12e4},{"E":"11","t":152.2,"v":1.12e4},{"E":"11","t":156.6,"v":1.26e4},{"E":"11","t":160.8,"v":1.29e4},
      {"E":"5.9","t":25.2,"v":1.35e4},{"E":"5.9","t":35,"v":8.91e3},{"E":"5.9","t":60,"v":2.4e3},{"E":"5.9","t":80,"v":631},{"E":"5.9","t":90,"v":589},{"E":"5.9","t":100,"v":490},{"E":"5.9","t":124.8,"v":832},{"E":"5.9","t":134.8,"v":741},{"E":"5.9","t":149.8,"v":933},
      {"E":"4","t":10,"v":525},{"E":"4","t":20,"v":490},{"E":"4","t":30,"v":372},{"E":"4","t":40,"v":269},{"E":"4","t":50,"v":178},{"E":"4","t":60,"v":102},{"E":"4","t":70,"v":56.2},{"E":"4","t":80,"v":37.2},{"E":"4","t":90,"v":38},{"E":"4","t":100,"v":43.7},{"E":"4","t":110,"v":49},{"E":"4","t":120,"v":53.7},{"E":"4","t":130,"v":55},{"E":"4","t":140,"v":56.2},{"E":"4","t":150,"v":53.7},{"E":"4","t":160,"v":51.3},{"E":"4","t":170,"v":44.7}
    ],
    "tags": [
      {"txt":"136","t":30.6,"v":3.02e19},{"txt":"96","t":30.0,"v":1.32e18},{"txt":"21.6","t":49.8,"v":7.76e16},
      {"txt":"18","t":20.1,"v":3.55e16},{"txt":"15.0","t":20.1,"v":7.59e14},{"txt":"14.6","t":20.1,"v":3.31e13},
      {"txt":"14.1","t":20.1,"v":1.38e12},{"txt":"14","t":20.1,"v":3.31e10},{"txt":"13","t":20.1,"v":1.48e9},
      {"txt":"12","t":20.1,"v":3.72e7},{"txt":"11","t":20.1,"v":1.26e6},{"txt":"5.9","t":20.1,"v":3.31e4},{"txt":"4","t":20.1,"v":1.12e3}
    ]
  },
  "resolve": {"axis": {"x": "independent", "y": "independent"}},
  "layer": [
    {
      "data": {"name": "curves"},
      "mark": {"type": "line", "clip": true, "strokeWidth": 2, "interpolate": "monotone"},
      "encoding": {
        "x": {"field": "t", "type": "quantitative", "scale": {"domain": [0, 175], "nice": false, "zero": false},
              "axis": {"orient": "bottom", "values": [50, 100, 150], "labels": false, "title": null, "tickSize": -17, "tickWidth": 1.5, "domainWidth": 2}},
        "y": {"field": "v", "type": "quantitative", "scale": {"type": "log", "domain": [1, 1e21], "nice": false},
              "axis": {"orient": "left", "values": [1e2, 1e4, 1e6, 1e8, 1e10, 1e12, 1e14, 1e16, 1e18, 1e20], "labels": false, "title": null, "tickSize": -27, "tickWidth": 1.5, "domainWidth": 2}},
        "color": {"field": "m", "type": "nominal", "scale": {"domain": ["DOM", "AB", "D&G"], "range": ["#e8141c", "#1a1ae0", "#e41ee4"]}, "legend": null},
        "strokeDash": {"field": "m", "type": "nominal", "scale": {"domain": ["DOM", "AB", "D&G"], "range": [[1, 0], [30, 8], [4, 4]]}, "legend": null},
        "detail": {"field": "E", "type": "nominal"}
      }
    },
    {
      "data": {"name": "dots"},
      "mark": {"type": "point", "filled": true, "color": "black", "opacity": 1, "size": 110, "clip": true},
      "encoding": {
        "x": {"field": "t", "type": "quantitative",
              "axis": {"orient": "top", "values": [50, 100, 150], "labels": false, "title": null, "tickSize": -17, "tickWidth": 1.5, "domainWidth": 2}},
        "y": {"field": "v", "type": "quantitative",
              "axis": {"orient": "right", "values": [1e2, 1e4, 1e6, 1e8, 1e10, 1e12, 1e14, 1e16, 1e18, 1e20], "labels": false, "title": null, "domain": false, "tickSize": -11, "tickWidth": 1.5}}
      }
    },
    {
      "data": {"name": "tags"},
      "mark": {"type": "text", "align": "left", "baseline": "middle", "fontSize": 28, "fontWeight": "bold", "color": "#231f20"},
      "encoding": {
        "x": {"field": "t", "type": "quantitative",
              "axis": {"orient": "bottom", "values": [0, 50, 100, 150], "ticks": false, "domain": false, "title": null, "labelFontSize": 37, "labelFontWeight": "bold", "labelPadding": 17}},
        "y": {"field": "v", "type": "quantitative",
              "axis": {"orient": "left", "values": [1e2, 1e6, 1e10, 1e14, 1e18, 1e21], "ticks": false, "domain": false, "title": null,
                       "labelExpr": "'' + round(log(datum.value) / LN10)", "labelFontSize": 24, "labelFontWeight": "bold", "labelAlign": "right", "labelBaseline": "middle", "labelPadding": 10}},
        "text": {"field": "txt", "type": "nominal"}
      }
    },
    {
      "data": {"values": [{}]},
      "mark": {"type": "rule", "strokeWidth": 2},
      "encoding": {
        "x": {"datum": 100, "type": "quantitative",
              "axis": {"orient": "bottom", "labels": false, "ticks": false, "domain": false, "title": "θ", "titleFont": "Liberation Serif", "titleFontWeight": "normal", "titleFontSize": 40, "titleX": 264, "titleY": 104, "titleAlign": "center", "titleBaseline": "alphabetic"}},
        "x2": {"datum": 134.6},
        "y": {"datum": 2.04e19, "type": "quantitative",
              "axis": {"orient": "left", "values": [1e2, 1e6, 1e10, 1e14, 1e18, 1e21], "ticks": false, "domain": false, "title": null,
                       "labelExpr": "'10'", "labelFontSize": 37, "labelFontWeight": "bold", "labelAlign": "right", "labelBaseline": "middle",
                       "labelPadding": {"condition": {"test": "datum.value < 1e9", "value": 30}, "value": 41}, "labelOffset": 13}},
        "color": {"datum": "DOM"},
        "strokeDash": {"datum": "DOM"}
      }
    },
    {
      "data": {"values": [{}]},
      "mark": {"type": "text", "align": "left", "baseline": "middle", "fontSize": 30, "fontWeight": "bold"},
      "encoding": {
        "x": {"datum": 140.4, "type": "quantitative",
              "axis": {"orient": "bottom", "labels": false, "ticks": false, "domain": false, "title": "c.m.", "titleFontSize": 26, "titleFontWeight": "bold", "titleX": 271, "titleY": 110, "titleAlign": "left", "titleBaseline": "alphabetic"}},
        "y": {"datum": 2.04e19, "type": "quantitative",
              "axis": {"orient": "left", "labels": false, "ticks": false, "domain": false, "title": "dσ/dΩ [mb/sr]", "titleFontSize": 40, "titleFontWeight": "bold", "titleAngle": 270, "titleX": -113, "titleY": 439, "titleAlign": "center", "titleBaseline": "alphabetic"}},
        "text": {"value": "DOM"},
        "color": {"datum": "DOM"}
      }
    },
    {
      "data": {"values": [{}]},
      "mark": {"type": "rule", "strokeWidth": 2},
      "encoding": {
        "x": {"datum": 100, "type": "quantitative",
              "axis": {"orient": "bottom", "labels": false, "ticks": false, "domain": false, "title": "[deg]", "titleFontSize": 40, "titleFontWeight": "bold", "titleX": 340, "titleY": 104, "titleAlign": "left", "titleBaseline": "alphabetic"}},
        "x2": {"datum": 134.6},
        "y": {"datum": 2.04e18, "type": "quantitative", "axis": null},
        "color": {"datum": "AB"},
        "strokeDash": {"datum": "AB"}
      }
    },
    {
      "data": {"values": [{}]},
      "mark": {"type": "text", "align": "left", "baseline": "middle", "fontSize": 30, "fontWeight": "bold"},
      "encoding": {
        "x": {"datum": 140.4, "type": "quantitative", "axis": null},
        "y": {"datum": 2.04e18, "type": "quantitative", "axis": null},
        "text": {"value": "AB"},
        "color": {"datum": "AB"}
      }
    },
    {
      "data": {"values": [{}]},
      "mark": {"type": "rule", "strokeWidth": 2},
      "encoding": {
        "x": {"datum": 100, "type": "quantitative", "axis": null},
        "x2": {"datum": 134.6},
        "y": {"datum": 2.14e17, "type": "quantitative", "axis": null},
        "color": {"datum": "D&G"},
        "strokeDash": {"datum": "D&G"}
      }
    },
    {
      "data": {"values": [{}]},
      "mark": {"type": "text", "align": "left", "baseline": "middle", "fontSize": 30, "fontWeight": "bold"},
      "encoding": {
        "x": {"datum": 140.4, "type": "quantitative", "axis": null},
        "y": {"datum": 1.9e17, "type": "quantitative", "axis": null},
        "text": {"value": "D&G"},
        "color": {"datum": "D&G"}
      }
    }
  ]
}
